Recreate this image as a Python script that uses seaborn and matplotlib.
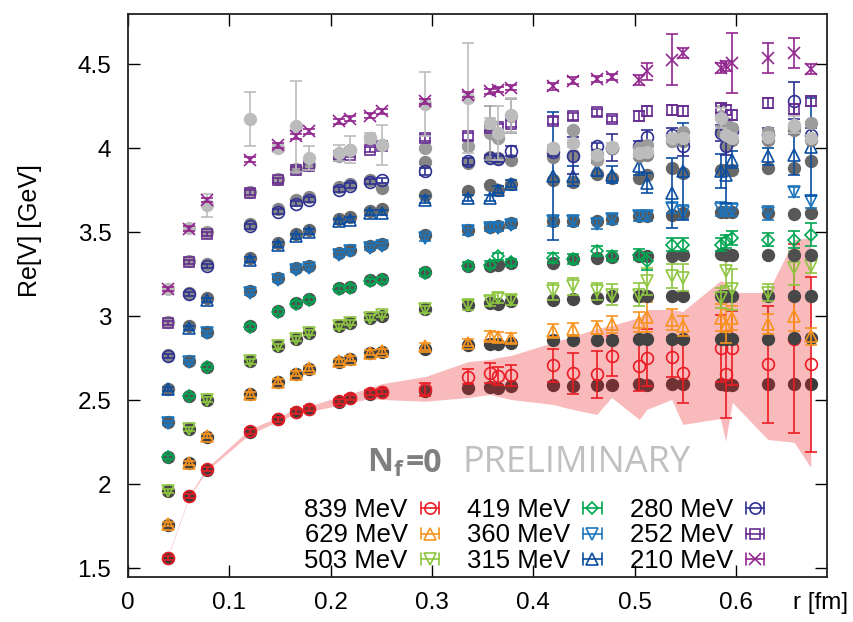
import numpy as np
import pandas as pd
import matplotlib
matplotlib.use('Agg')
import matplotlib.pyplot as plt
import seaborn as sns
from matplotlib.legend_handler import HandlerBase
from matplotlib.lines import Line2D

# ---------------- data ----------------
r_fm = [0.039, 0.0605, 0.0777, 0.1204, 0.1484, 0.1655, 0.179, 0.2078, 0.2196, 0.2389,
        0.251, 0.2935, 0.336, 0.3574, 0.3655, 0.378, 0.4192, 0.4388, 0.4627, 0.4773,
        0.5047, 0.512, 0.5367, 0.5476, 0.5849, 0.5898, 0.5965, 0.6315, 0.6575, 0.674]

labels = ['839 MeV', '629 MeV', '503 MeV', '419 MeV', '360 MeV', '315 MeV',
          '280 MeV', '252 MeV', '210 MeV']

v839 = [1.564, 1.930, 2.089, 2.317, 2.386, 2.432, 2.450, 2.495, 2.515, 2.545, 2.551, 2.565, 2.640, 2.664, 2.644,
        2.648, 2.708, 2.660, 2.654, 2.763, 2.703, 2.753, 2.759, 2.664, 2.809, 2.654, 2.809, 2.714, 2.868, 2.714]
e839 = [0.012, 0.012, 0.012, 0.015, 0.015, 0.015, 0.015, 0.015, 0.015, 0.015, 0.015, 0.04, 0.045, 0.06, 0.055,
        0.06, 0.10, 0.12, 0.14, 0.12, 0.15, 0.17, 0.12, 0.18, 0.20, 0.26, 0.22, 0.35, 0.56, 0.52]
g839 = [1.564, 1.930, 2.085, 2.310, 2.386, 2.430, 2.450, 2.492, 2.512, 2.540, 2.548, 2.555, 2.571, 2.579, 2.575,
        2.585, 2.589, 2.585, 2.589, 2.589, 2.595, 2.589, 2.595, 2.595, 2.595, 2.590, 2.590, 2.595, 2.595, 2.595]

v629 = [1.762, 2.129, 2.287, 2.535, 2.611, 2.658, 2.690, 2.733, 2.749, 2.783, 2.793, 2.822, 2.843, 2.882, 2.876,
        2.872, 2.912, 2.922, 2.932, 2.952, 2.965, 2.997, 2.981, 2.941, 2.991, 2.941, 2.991, 2.952, 3.005, 2.882]
e629 = [0.012, 0.012, 0.012, 0.015, 0.015, 0.015, 0.015, 0.015, 0.015, 0.015, 0.015, 0.02, 0.02, 0.03, 0.03,
        0.03, 0.04, 0.04, 0.04, 0.05, 0.06, 0.09, 0.06, 0.06, 0.08, 0.10, 0.07, 0.06, 0.09, 0.05]
g629 = [1.760, 2.129, 2.280, 2.535, 2.611, 2.655, 2.688, 2.730, 2.745, 2.780, 2.790, 2.807, 2.827, 2.838, 2.833,
        2.843, 2.862, 2.858, 2.860, 2.862, 2.865, 2.865, 2.868, 2.868, 2.868, 2.868, 2.868, 2.868, 2.870, 2.870]

v503 = [1.960, 2.327, 2.505, 2.733, 2.822, 2.866, 2.902, 2.941, 2.962, 2.991, 3.011, 3.041, 3.066, 3.090, 3.110,
        3.096, 3.150, 3.179, 3.150, 3.130, 3.130, 3.209, 3.239, 3.229, 3.110, 3.269, 3.160, 3.140, 3.289, 3.298]
e503 = [0.012, 0.012, 0.012, 0.015, 0.015, 0.015, 0.015, 0.015, 0.015, 0.015, 0.015, 0.02, 0.03, 0.03, 0.03,
        0.03, 0.05, 0.05, 0.05, 0.06, 0.07, 0.08, 0.07, 0.08, 0.06, 0.09, 0.12, 0.05, 0.10, 0.04]
g503 = [1.960, 2.327, 2.500, 2.733, 2.822, 2.866, 2.900, 2.945, 2.962, 2.991, 3.005, 3.041, 3.066, 3.081, 3.076,
        3.090, 3.100, 3.104, 3.110, 3.120, 3.120, 3.120, 3.124, 3.124, 3.124, 3.124, 3.124, 3.124, 3.124, 3.124]

v419 = [2.165, 2.525, 2.699, 2.938, 3.027, 3.075, 3.100, 3.164, 3.170, 3.209, 3.219, 3.259, 3.302, 3.308, 3.358,
        3.322, 3.350, 3.342, 3.388, 3.358, 3.368, 3.328, 3.427, 3.427, 3.427, 3.447, 3.467, 3.457, 3.457, 3.487]
e419 = [0.012, 0.012, 0.012, 0.015, 0.015, 0.015, 0.015, 0.015, 0.015, 0.015, 0.015, 0.02, 0.02, 0.02, 0.02,
        0.02, 0.03, 0.03, 0.03, 0.03, 0.03, 0.05, 0.04, 0.04, 0.04, 0.04, 0.04, 0.04, 0.05, 0.07]
g419 = [2.165, 2.525, 2.700, 2.945, 3.030, 3.080, 3.105, 3.170, 3.175, 3.215, 3.225, 3.265, 3.298, 3.302, 3.308,
        3.319, 3.319, 3.342, 3.350, 3.354, 3.360, 3.360, 3.362, 3.368, 3.370, 3.368, 3.368, 3.368, 3.368, 3.368]

v360 = [2.367, 2.730, 2.898, 3.140, 3.219, 3.277, 3.289, 3.368, 3.388, 3.408, 3.421, 3.467, 3.507, 3.527, 3.527,
        3.546, 3.566, 3.566, 3.552, 3.580, 3.596, 3.600, 3.646, 3.620, 3.640, 3.636, 3.636, 3.616, 3.739, 3.685]
e360 = [0.012, 0.012, 0.012, 0.015, 0.015, 0.015, 0.015, 0.015, 0.015, 0.015, 0.015, 0.02, 0.02, 0.02, 0.02,
        0.02, 0.03, 0.03, 0.03, 0.03, 0.03, 0.03, 0.03, 0.04, 0.04, 0.04, 0.04, 0.04, 0.03, 0.04]
g360 = [2.370, 2.735, 2.905, 3.150, 3.230, 3.285, 3.300, 3.380, 3.395, 3.420, 3.430, 3.487, 3.517, 3.533, 3.535,
        3.557, 3.566, 3.566, 3.566, 3.580, 3.596, 3.596, 3.606, 3.616, 3.620, 3.620, 3.620, 3.616, 3.612, 3.616]

v315 = [2.565, 2.932, 3.100, 3.338, 3.425, 3.477, 3.503, 3.566, 3.576, 3.616, 3.618, 3.695, 3.705, 3.705, 3.755,
        3.790, 3.834, 3.834, 3.874, 3.844, 3.893, 3.795, 3.735, 3.864, 3.864, 3.844, 3.933, 3.953, 3.963, 4.009]
e315 = [0.012, 0.012, 0.012, 0.015, 0.015, 0.015, 0.015, 0.015, 0.015, 0.015, 0.015, 0.02, 0.02, 0.02, 0.02,
        0.02, 0.38, 0.06, 0.04, 0.05, 0.05, 0.06, 0.21, 0.29, 0.10, 0.17, 0.05, 0.05, 0.12, 0.29]
g315 = [2.570, 2.940, 3.110, 3.350, 3.435, 3.490, 3.515, 3.580, 3.590, 3.630, 3.640, 3.725, 3.744, 3.784, 3.755,
        3.790, 3.810, 3.800, 3.850, 3.824, 3.824, 3.840, 3.884, 3.854, 3.874, 3.874, 3.874, 3.884, 3.884, 3.923]

v280 = [2.763, 3.134, 3.297, 3.536, 3.622, 3.671, 3.695, 3.755, 3.777, 3.800, 3.810, 3.863, 3.923, 3.943, 3.937,
        3.983, 3.977, 3.957, 4.012, 4.003, 4.016, 4.068, 4.082, 4.012, 4.092, 4.012, 4.101, 4.082, 4.284, 4.082]
e280 = [0.012, 0.012, 0.012, 0.015, 0.015, 0.015, 0.015, 0.015, 0.015, 0.015, 0.015, 0.02, 0.02, 0.02, 0.02,
        0.03, 0.02, 0.11, 0.02, 0.08, 0.03, 0.04, 0.04, 0.06, 0.05, 0.05, 0.04, 0.04, 0.11, 0.04]
g280 = [2.770, 3.140, 3.310, 3.550, 3.640, 3.690, 3.710, 3.770, 3.785, 3.810, 3.765, 3.917, 3.913, 3.950, 3.940,
        3.933, 3.950, 3.960, 3.964, 4.003, 3.953, 3.960, 4.042, 4.042, 4.101, 4.020, 4.050, 4.050, 4.110, 4.050]

v252 = [2.962, 3.325, 3.493, 3.735, 3.809, 3.874, 3.893, 3.953, 3.963, 3.993, 4.016, 4.062, 4.072, 4.122, 4.128,
        4.147, 4.165, 4.191, 4.214, 4.175, 4.191, 4.221, 4.231, 4.221, 4.241, 4.231, 4.201, 4.270, 4.235, 4.280]
e252 = [0.012, 0.012, 0.012, 0.015, 0.015, 0.015, 0.015, 0.015, 0.015, 0.015, 0.015, 0.02, 0.02, 0.02, 0.02,
        0.02, 0.02, 0.02, 0.02, 0.02, 0.03, 0.03, 0.03, 0.03, 0.03, 0.03, 0.03, 0.03, 0.03, 0.03]
g252 = [2.965, 3.330, 3.500, 3.740, 3.815, 3.880, 3.900, 3.953, 3.990, 4.062, 4.022, 4.000, 4.012, 4.092, 4.060,
        4.191, 4.000, 4.110, 3.933, 4.003, 4.000, 4.020, 4.042, 4.100, 4.191, 4.150, 4.120, 4.100, 4.131, 4.150]
ge252 = [0.01, 0.01, 0.01, 0.01, 0.01, 0.01, 0.01, 0.01, 0.01, 0.01, 0.01, 0.01, 0.01, 0.16, 0.01,
         0.10, 0.01, 0.01, 0.01, 0.01, 0.01, 0.01, 0.01, 0.01, 0.06, 0.01, 0.01, 0.01, 0.01, 0.01]

v210 = [3.160, 3.523, 3.695, 3.933, 4.018, 4.072, 4.101, 4.161, 4.177, 4.195, 4.220, 4.280, 4.320, 4.339, 4.350,
        4.360, 4.369, 4.403, 4.413, 4.425, 4.409, 4.458, 4.528, 4.568, 4.479, 4.488, 4.508, 4.538, 4.568, 4.473]
e210 = [0.012, 0.012, 0.012, 0.015, 0.015, 0.015, 0.015, 0.015, 0.015, 0.015, 0.015, 0.015, 0.015, 0.015, 0.015,
        0.015, 0.02, 0.02, 0.02, 0.02, 0.03, 0.05, 0.15, 0.03, 0.03, 0.03, 0.18, 0.09, 0.09, 0.03]
g210 = [3.165, 3.525, 3.660, 4.177, 4.000, 4.131, 3.943, 3.973, 3.993, 4.062, 4.022, 4.262, 4.300, 4.150, 4.090,
        4.200, 4.000, 4.030, 3.960, 4.010, 3.970, 3.980, 4.060, 4.060, 4.180, 4.080, 4.060, 4.070, 4.140, 4.060]
ge210 = [0.01, 0.01, 0.07, 0.16, 0.02, 0.27, 0.07, 0.05, 0.08, 0.03, 0.12, 0.19, 0.33, 0.03, 0.16,
         0.10, 0.02, 0.02, 0.02, 0.02, 0.02, 0.02, 0.02, 0.02, 0.06, 0.02, 0.02, 0.02, 0.05, 0.02]

band_lo = [1.559, 1.925, 2.080, 2.300, 2.375, 2.418, 2.433, 2.470, 2.488, 2.510, 2.505, 2.495, 2.517, 2.535, 2.523,
           2.505, 2.476, 2.446, 2.416, 2.517, 2.386, 2.446, 2.505, 2.357, 2.392, 2.256, 2.488, 2.267, 2.250, 2.101]
band_hi = [1.569, 1.935, 2.098, 2.330, 2.400, 2.448, 2.467, 2.520, 2.540, 2.575, 2.600, 2.642, 2.731, 2.743, 2.755,
           2.767, 2.844, 2.880, 2.928, 2.946, 2.993, 3.041, 3.041, 3.029, 3.213, 3.201, 3.142, 3.142, 3.457, 3.469]

x_ticks = [0, 0.1, 0.2, 0.3, 0.4, 0.5, 0.6]
x_ticklabels = ['0', '0.1', '0.2', '0.3', '0.4', '0.5', '0.6']
y_ticks = [1.5, 2, 2.5, 3, 3.5, 4, 4.5]
y_ticklabels = ['1.5', '2', '2.5', '3', '3.5', '4', '4.5']

# ---------------- style ----------------
sns.set_theme(style='ticks')
plt.rcParams['font.family'] = ['Liberation Sans', 'DejaVu Sans']
plt.rcParams['text.color'] = 'black'
plt.rcParams['axes.labelcolor'] = 'black'
plt.rcParams['mathtext.fontset'] = 'custom'
plt.rcParams['mathtext.bf'] = 'Open Sans:bold'
plt.rcParams['mathtext.rm'] = 'Open Sans'

colors = ['#ec1c24', '#f7931e', '#8dc63f', '#00a651', '#1c75bc', '#0b4ea2', '#2e3192', '#662d91', '#92278f']
markers = ['o', '^', 'v', 'D', 'v', '^', 'o', 's', 'x']
msizes = {'o': 8.5, '^': 9.0, 'v': 9.0, 'D': 6.5, 's': 7.5, 'x': 9.0}
grays = ['#3c3c3c', '#424242', '#484848', '#4f4f4f', '#585858', '#686868', '#858585', '#9c9c9c', '#bcbcbc']

vals = [v839, v629, v503, v419, v360, v315, v280, v252, v210]
errs = [e839, e629, e503, e419, e360, e315, e280, e252, e210]
gvals = [g839, g629, g503, g419, g360, g315, g280, g252, g210]
gerrs = [None, None, None, None, None, None, None, ge252, ge210]

fig = plt.figure(figsize=(8.54, 6.22), dpi=100)
ax = fig.add_axes([0.1499, 0.0728, 0.8185, 0.9047])

for i in range(9):
    z = 10 + 4 * i
    gdf = pd.DataFrame({'r': r_fm, 'V': gvals[i]})
    if gerrs[i] is not None:
        ax.errorbar(r_fm, gvals[i], yerr=gerrs[i], fmt='none', ecolor=grays[i],
                    elinewidth=1.2, capsize=4.5, capthick=1.2, zorder=z)
    sns.scatterplot(data=gdf, x='r', y='V', color=grays[i], s=92, linewidth=0,
                    marker='o', ax=ax, zorder=z + 1, legend=False)
    if i == 0:
        ax.fill_between(r_fm, band_lo, band_hi, color=colors[0], alpha=0.3, lw=0, zorder=z + 2)
    mk = markers[i]
    ax.errorbar(r_fm, vals[i], yerr=errs[i], fmt=mk, color=colors[i], ecolor=colors[i],
                mfc='none', mec=colors[i], ms=msizes[mk], mew=1.2,
                elinewidth=1.2, capsize=4.5, capthick=1.2, zorder=z + 3)

ax.set_xlim(0, 0.69)
ax.set_ylim(1.45, 4.8)
ax.set_xticks(x_ticks)
ax.set_xticklabels(x_ticklabels)
ax.set_yticks(y_ticks)
ax.set_yticklabels(y_ticklabels)
ax.tick_params(axis='both', which='both', direction='in', length=8.5, width=1.0,
               top=True, right=True, labelsize=17.5, colors='black')
ax.tick_params(axis='x', pad=11)
ax.tick_params(axis='y', pad=12)
for s in ax.spines.values():
    s.set_color('#222222')
    s.set_linewidth(1.3)
ax.set_xlabel('')
ax.set_ylabel('Re[V] [GeV]', fontsize=18)
ax.yaxis.set_label_coords(-0.123, 0.616)
ax.annotate('r [fm]', xy=(0.991, 0), xycoords='axes fraction', xytext=(0, -11),
            textcoords='offset points', ha='center', va='top', fontsize=17.5)

t_nf = ax.text(0.342, 0.1866, r'$\mathbf{N}_{\mathbf{f}}$', transform=ax.transAxes,
               fontsize=23, color='#7f7f7f', ha='left', va='baseline', zorder=60)
ax.annotate('=0', xy=(1.0, 0.1866), xycoords=(t_nf, 'axes fraction'), xytext=(0.5, 0),
            textcoords='offset points', family='Open Sans', weight='bold',
            fontsize=23, color='#7f7f7f', ha='left', va='baseline', zorder=60)
ax.text(0.479, 0.1866, 'PRELIMINARY', transform=ax.transAxes, family='Open Sans',
        fontsize=26, color='#c0c0c0', ha='left', va='baseline', zorder=60)


class GPHandler(HandlerBase):
    def create_artists(self, legend, orig_handle, xdescent, ydescent, width, height, fontsize, trans):
        c = orig_handle.get_color()
        m = orig_handle.get_marker()
        x0 = -xdescent
        x1 = x0 + width
        yc = -ydescent + height / 2
        cap = 0.33 * height
        arts = [Line2D([x0, x1], [yc, yc], color=c, lw=1.2),
                Line2D([x0, x0], [yc - cap, yc + cap], color=c, lw=1.2),
                Line2D([x1, x1], [yc - cap, yc + cap], color=c, lw=1.2),
                Line2D([(x0 + x1) / 2], [yc], marker=m, ms=msizes[m] * 0.95, mfc='none',
                       mec=c, mew=1.2, ls='none')]
        for a in arts:
            a.set_transform(trans)
        return arts


handles = [Line2D([], [], color=colors[i], marker=markers[i]) for i in range(9)]
leg = ax.legend(handles, labels, handler_map={Line2D: GPHandler()}, ncol=3, markerfirst=False,
                frameon=False, loc='lower right', bbox_to_anchor=(0.910, 0.007), fontsize=18.5,
                handlelength=0.72, handletextpad=0.5, columnspacing=1.09, labelspacing=0.05,
                borderpad=0.0, borderaxespad=0.0)
for t in leg.get_texts():
    t.set_color('black')
leg.set_zorder(70)

fig.savefig('out.png', dpi=100)
